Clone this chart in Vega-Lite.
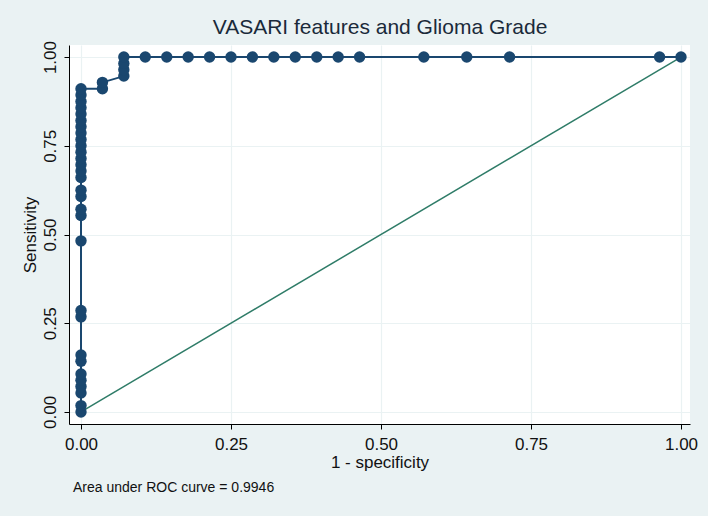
{
  "$schema": "https://vega.github.io/schema/vega-lite/v6.json",
  "autosize": {"type": "none"},
  "width": 621,
  "height": 379,
  "padding": {"left": 69, "top": 45, "right": 18, "bottom": 92},
  "background": "#eaf2f3",
  "config": {"view": {"fill": "white", "stroke": null}, "font": "Liberation Sans"},
  "title": {"text": "Area under ROC curve = 0.9946", "orient": "bottom", "anchor": "start", "frame": "group", "fontSize": 14, "fontWeight": "normal", "color": "#111111", "offset": 11, "dx": 4},
  "datasets": {
    "roc": [
      {"ord": 1, "fpr": 0, "tpr": 0},
      {"ord": 2, "fpr": 0, "tpr": 0.0179},
      {"ord": 3, "fpr": 0, "tpr": 0.0536},
      {"ord": 4, "fpr": 0, "tpr": 0.0714},
      {"ord": 5, "fpr": 0, "tpr": 0.0893},
      {"ord": 6, "fpr": 0, "tpr": 0.1071},
      {"ord": 7, "fpr": 0, "tpr": 0.1429},
      {"ord": 8, "fpr": 0, "tpr": 0.1607},
      {"ord": 9, "fpr": 0, "tpr": 0.2679},
      {"ord": 10, "fpr": 0, "tpr": 0.2857},
      {"ord": 11, "fpr": 0, "tpr": 0.4821},
      {"ord": 12, "fpr": 0, "tpr": 0.5536},
      {"ord": 13, "fpr": 0, "tpr": 0.5714},
      {"ord": 14, "fpr": 0, "tpr": 0.6071},
      {"ord": 15, "fpr": 0, "tpr": 0.625},
      {"ord": 16, "fpr": 0, "tpr": 0.6607},
      {"ord": 17, "fpr": 0, "tpr": 0.6786},
      {"ord": 18, "fpr": 0, "tpr": 0.6964},
      {"ord": 19, "fpr": 0, "tpr": 0.7143},
      {"ord": 20, "fpr": 0, "tpr": 0.7321},
      {"ord": 21, "fpr": 0, "tpr": 0.75},
      {"ord": 22, "fpr": 0, "tpr": 0.7679},
      {"ord": 23, "fpr": 0, "tpr": 0.7857},
      {"ord": 24, "fpr": 0, "tpr": 0.8036},
      {"ord": 25, "fpr": 0, "tpr": 0.8214},
      {"ord": 26, "fpr": 0, "tpr": 0.8393},
      {"ord": 27, "fpr": 0, "tpr": 0.8571},
      {"ord": 28, "fpr": 0, "tpr": 0.875},
      {"ord": 29, "fpr": 0, "tpr": 0.8929},
      {"ord": 30, "fpr": 0, "tpr": 0.9107},
      {"ord": 31, "fpr": 0.0357, "tpr": 0.9107},
      {"ord": 32, "fpr": 0.0357, "tpr": 0.9286},
      {"ord": 33, "fpr": 0.0714, "tpr": 0.9464},
      {"ord": 34, "fpr": 0.0714, "tpr": 0.9643},
      {"ord": 35, "fpr": 0.0714, "tpr": 0.9821},
      {"ord": 36, "fpr": 0.0714, "tpr": 1},
      {"ord": 37, "fpr": 0.1071, "tpr": 1},
      {"ord": 38, "fpr": 0.1429, "tpr": 1},
      {"ord": 39, "fpr": 0.1786, "tpr": 1},
      {"ord": 40, "fpr": 0.2143, "tpr": 1},
      {"ord": 41, "fpr": 0.25, "tpr": 1},
      {"ord": 42, "fpr": 0.2857, "tpr": 1},
      {"ord": 43, "fpr": 0.3214, "tpr": 1},
      {"ord": 44, "fpr": 0.3571, "tpr": 1},
      {"ord": 45, "fpr": 0.3929, "tpr": 1},
      {"ord": 46, "fpr": 0.4286, "tpr": 1},
      {"ord": 47, "fpr": 0.4643, "tpr": 1},
      {"ord": 48, "fpr": 0.5714, "tpr": 1},
      {"ord": 49, "fpr": 0.6429, "tpr": 1},
      {"ord": 50, "fpr": 0.7143, "tpr": 1},
      {"ord": 51, "fpr": 0.9643, "tpr": 1},
      {"ord": 52, "fpr": 1, "tpr": 1}
    ],
    "ref": [{"fpr": 0, "tpr": 0}, {"fpr": 1, "tpr": 1}]
  },
  "resolve": {"axis": {"x": "independent"}},
  "layer": [
    {
      "data": {"name": "ref"},
      "mark": {"type": "line", "color": "#2f7c68", "strokeWidth": 1.5},
      "encoding": {
        "x": {"field": "fpr", "type": "quantitative",
          "scale": {"domain": [-0.02, 1.015], "nice": false, "zero": false},
          "axis": {"title": "1 - specificity", "values": [0, 0.25, 0.5, 0.75, 1], "format": ".2f",
            "labelFontSize": 17, "labelColor": "#111111", "tickSize": 5, "labelPadding": 7,
            "domainColor": "#000000", "tickColor": "#000000", "gridColor": "#eaf2f3", "gridWidth": 1.2,
            "titleFontSize": 17, "titleFontWeight": "normal", "titleColor": "#111111", "titlePadding": 2}},
        "y": {"field": "tpr", "type": "quantitative",
          "scale": {"domain": [-0.034, 1.034], "nice": false, "zero": false},
          "axis": {"title": "Sensitivity", "values": [0, 0.25, 0.5, 0.75, 1], "format": ".2f",
            "labelAngle": 270, "labelAlign": "center", "labelBaseline": "bottom",
            "labelFontSize": 17, "labelColor": "#111111", "tickSize": 5, "labelPadding": 5,
            "domainColor": "#000000", "tickColor": "#000000", "gridColor": "#eaf2f3", "gridWidth": 1.2,
            "titleFontSize": 17, "titleFontWeight": "normal", "titleColor": "#111111", "titlePadding": 2}}
      }
    },
    {
      "data": {"name": "roc"},
      "mark": {"type": "line", "color": "#1a476f", "strokeWidth": 2},
      "encoding": {
        "x": {"field": "fpr", "type": "quantitative", "axis": null},
        "y": {"field": "tpr", "type": "quantitative"},
        "order": {"field": "ord"}
      }
    },
    {
      "data": {"name": "roc"},
      "mark": {"type": "point", "filled": true, "size": 130, "opacity": 1, "color": "#1a476f"},
      "encoding": {
        "x": {"field": "fpr", "type": "quantitative", "axis": null},
        "y": {"field": "tpr", "type": "quantitative"}
      }
    },
    {
      "data": {"name": "ref"},
      "mark": {"type": "line", "opacity": 0},
      "encoding": {
        "x": {"field": "fpr", "type": "quantitative",
          "axis": {"orient": "top", "title": "VASARI features and Glioma Grade", "domain": false, "ticks": false, "labels": false, "grid": false,
            "titleFontSize": 21, "titleFontWeight": "normal", "titleColor": "#1a2a3a", "titlePadding": 8}},
        "y": {"field": "tpr", "type": "quantitative"}
      }
    }
  ]
}
